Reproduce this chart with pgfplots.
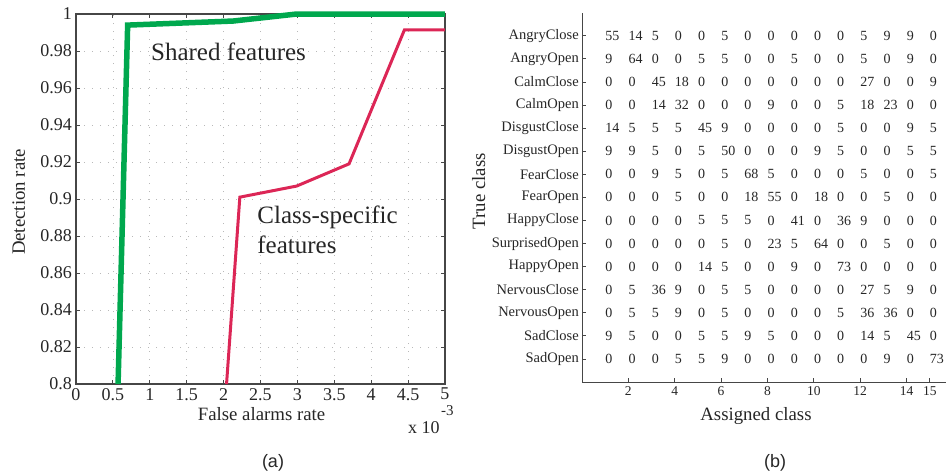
\documentclass[border=0pt]{standalone}
\usepackage{pgfplots}
\pgfplotsset{compat=1.18}
\usepackage{pgfplotstable}
\usepackage{fontspec}
\setmainfont{Liberation Serif}
\newfontfamily\arialfont{Liberation Sans}
\definecolor{sharedgreen}{RGB}{0,168,78}
\definecolor{classred}{RGB}{220,38,86}
\definecolor{axgray}{RGB}{70,70,70}

% (a) detection rate vs false alarm rate (x in units of 1e-3)
\pgfplotstableread{
x y
0.57 0.8
0.70 0.994
2.13 0.9962
2.99 1.0
5.0 1.0
}\sharedtab
\pgfplotstableread{
x y
2.04 0.8
2.22 0.901
2.99 0.907
3.70 0.919
4.45 0.9914
5.0 0.9914
}\classtab

% (b) confusion matrix, row y = 16 - row index, columns c1..c15
\pgfplotstableread{
y c1 c2 c3 c4 c5 c6 c7 c8 c9 c10 c11 c12 c13 c14 c15
15 55 14 5 0 0 5 0 0 0 0 0 5 9 9 0
14 9 64 0 0 5 5 0 0 5 0 0 5 0 9 0
13 0 0 45 18 0 0 0 0 0 0 0 27 0 0 9
12 0 0 14 32 0 0 0 9 0 0 5 18 23 0 0
11 14 5 5 5 45 9 0 0 0 0 5 0 0 9 5
10 9 9 5 0 5 50 0 0 0 9 5 0 0 5 5
9 0 0 9 5 0 5 68 5 0 0 0 5 0 0 5
8 0 0 0 5 0 0 18 55 0 18 0 0 5 0 0
7 0 0 0 0 5 5 5 0 41 0 36 9 0 0 0
6 0 0 0 0 0 5 0 23 5 64 0 0 5 0 0
5 0 0 0 0 14 5 0 0 9 0 73 0 0 0 0
4 0 5 36 9 0 5 5 0 0 0 0 27 5 9 0
3 0 5 5 9 0 5 0 0 0 0 5 36 36 0 0
2 9 5 0 0 5 5 9 5 0 0 0 14 5 45 0
1 0 0 0 5 5 9 0 0 0 0 0 0 9 0 73
}\conftab

\begin{document}
\begin{tikzpicture}
\useasboundingbox (0pt,0pt) rectangle (946pt,-475pt);
\begin{axis}[
  at={(76pt,-384pt)}, anchor=south west,
  scale only axis, width=369pt, height=370pt,
  xmin=0, xmax=5, ymin=0.8, ymax=1,
  xtick distance=0.5, ytick distance=0.02,
  clip=false,
  axis line style={draw=axgray, line width=1.3pt},
  tick style={draw=axgray, line width=0.8pt},
  major tick length=4pt, tick align=inside,
  grid=major,
  grid style={draw=gray!55, line width=0.7pt, dash pattern=on 1pt off 7pt},
  tick label style={font=\fontsize{18}{18}\selectfont, text=black!85},
  /pgf/number format/assume math mode=true,
  /pgf/number format/fixed, /pgf/number format/precision=2,
  xticklabel style={inner sep=0pt, yshift=-4pt},
  yticklabel style={inner sep=0pt, xshift=-4pt},
  xlabel={False alarms rate}, ylabel={Detection rate},
  label style={font=\fontsize{18.8}{18.8}\selectfont, text=black!85},
  xlabel style={at={([yshift=-36.7pt,xshift=1pt]axis description cs:0.5,0)}, anchor=base},
  ylabel style={at={([xshift=-51pt,yshift=-3pt]axis description cs:0,0.5)}, anchor=base},
]
\addplot[sharedgreen, line width=5.5pt] table {\sharedtab};
\addplot[classred, line width=3pt] table {\classtab};
\node[anchor=base west, font=\fontsize{25}{25}\selectfont, text=black!85] at (axis cs:0.97,0.9746) {Shared features};
\node[anchor=base west, font=\fontsize{25}{25}\selectfont, text=black!85] at (axis cs:2.41,0.887) {Class-specific};
\node[anchor=base west, font=\fontsize{25}{25}\selectfont, text=black!85] at (axis cs:2.41,0.8708) {features};
\end{axis}
\node[anchor=base west, font=\fontsize{18}{18}\selectfont, text=black!85, inner sep=0pt] at (408pt,-433pt) {x 10};
\node[anchor=base west, font=\fontsize{15}{15}\selectfont, text=black!85, inner sep=0pt] at (441pt,-415pt) {-3};

\begin{axis}[
  at={(582pt,-382pt)}, anchor=south west,
  scale only axis, width=364pt, height=369.3pt,
  xmin=0, xmax=15.7, ymin=0, ymax=16,
  axis lines*=left,
  clip=false,
  axis line style={draw=axgray, line width=1pt},
  tick style={draw=axgray, line width=0.8pt},
  major tick length=4pt, tick align=inside,
  xtick={2,4,6,8,10,12,14,15},
  ytick={1,2,...,15},
  yticklabels={SadOpen,SadClose,NervousOpen,NervousClose,HappyOpen,SurprisedOpen,HappyClose,FearOpen,FearClose,DisgustOpen,DisgustClose,CalmOpen,CalmClose,AngryOpen,AngryClose},
  /pgf/number format/assume math mode=true,
  xticklabel style={font=\fontsize{13.5}{13.5}\selectfont, text=black!85, inner sep=0pt, yshift=-4pt},
  yticklabel style={font=\fontsize{14.5}{14.5}\selectfont, text=black!85, inner sep=0pt, xshift=-3pt},
  xlabel={Assigned class}, ylabel={True class},
  label style={font=\fontsize{18.8}{18.8}\selectfont, text=black!85},
  xlabel style={at={([xshift=-8pt,yshift=-38pt]axis description cs:0.5,0)}, anchor=base},
  ylabel style={at={([xshift=-97pt,yshift=6pt]axis description cs:0,0.5)}, anchor=base},
]
\pgfplotsinvokeforeach{1,...,15}{
  \addplot[draw=none, mark=none, nodes near coords, point meta=explicit,
    nodes near coords style={anchor=west, inner sep=0pt, font=\fontsize{14}{14}\selectfont, text=black!85}]
    table[x expr=#1, y=y, meta=c#1] {\conftab};
}
\end{axis}

\node[font=\arialfont\fontsize{18}{18}\selectfont, text=black!85] at (273pt,-463pt) {(a)};
\node[font=\arialfont\fontsize{18}{18}\selectfont, text=black!85] at (775pt,-463pt) {(b)};
\end{tikzpicture}
\end{document}
